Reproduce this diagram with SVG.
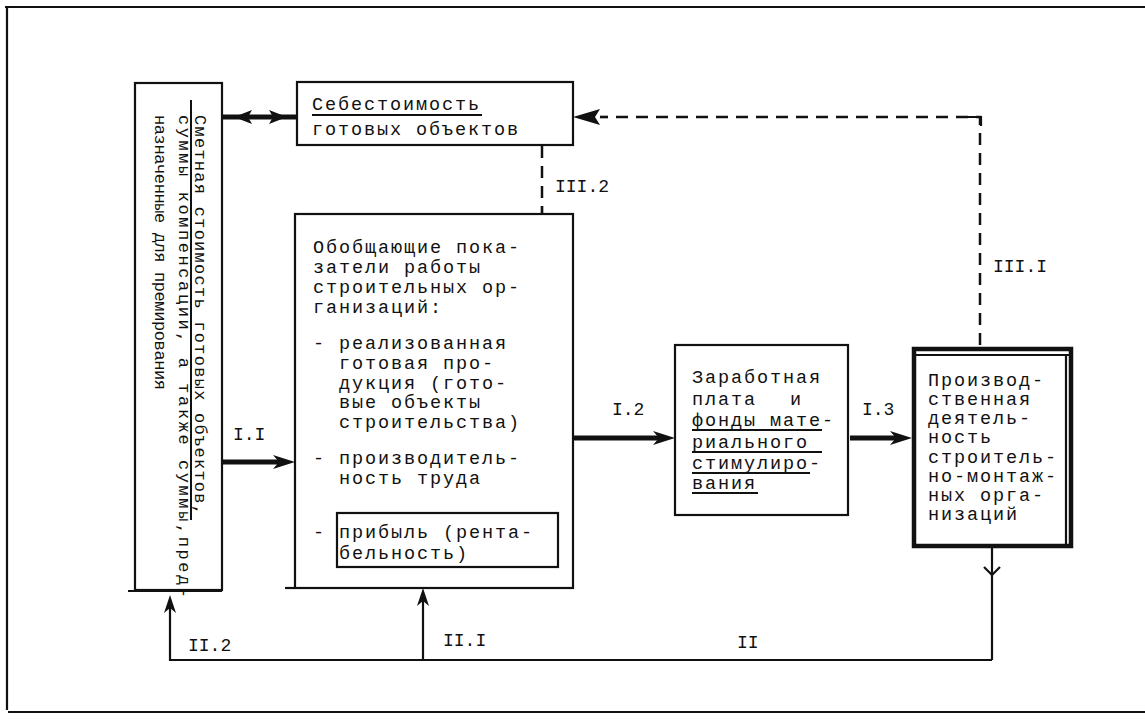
<svg xmlns="http://www.w3.org/2000/svg" width="1145" height="719" viewBox="0 0 1145 719">
<style>
text{font-family:"Liberation Mono","DejaVu Sans Mono",monospace;fill:#111;}
.t{font-size:18.5px;letter-spacing:1.9px;}
.r{font-size:17px;}
.lbl{font-size:18px;}
.box{fill:#fff;stroke:#111;stroke-width:2.2;}
.ln{fill:none;stroke:#111;stroke-width:2.2;}
.thick{fill:none;stroke:#111;stroke-width:5;}
.dash{fill:none;stroke:#111;stroke-width:2.5;stroke-dasharray:12 8;}
.ul{stroke:#111;stroke-width:2;}
.ah{fill:#111;}
</style>
<defs>
<marker id="arr" viewBox="0 0 22 14" refX="12" refY="7" markerWidth="22" markerHeight="14" markerUnits="userSpaceOnUse" orient="auto">
<path d="M0,0 L22,7 L0,14 L6,7 Z" fill="#111"/>
</marker>
<marker id="arrs" viewBox="0 0 18 12" refX="8" refY="6" markerWidth="18" markerHeight="12" markerUnits="userSpaceOnUse" orient="auto">
<path d="M0,0 L18,6 L0,12 L5,6 Z" fill="#111"/>
</marker>
</defs>
<rect width="1145" height="719" fill="#fff"/>
<g id="frame">
<line x1="5" y1="7" x2="1145" y2="7" class="ln" stroke-width="2.5"/>
<line x1="7" y1="7" x2="7" y2="710" class="ln"/>
<line x1="8" y1="712" x2="1145" y2="712" class="ln" stroke-width="2.5"/>
</g>
<g id="connectors">
<line x1="222" y1="462" x2="285" y2="462" class="thick" marker-end="url(#arr)"/>
<line x1="573" y1="438" x2="665" y2="438" class="thick" marker-end="url(#arr)"/>
<line x1="850" y1="438" x2="902" y2="438" class="thick" marker-end="url(#arr)"/>
<line x1="222" y1="117" x2="297" y2="117" class="thick"/>
<path d="M234,117 L252,110 L248,117 L252,124 Z" class="ah"/>
<path d="M287,117 L269,110 L273,117 L269,124 Z" class="ah"/>
<path d="M980,345 L980,117 L600,117" class="dash"/>
<path d="M962,117 L981,117 L981,126" class="ln" stroke-width="2.5"/>
<path d="M573,117 L600,109 L595,117 L600,125 Z" class="ah"/>
<path d="M600,117 L608,117" class="ln" stroke-width="2.5"/>
<path d="M542,146 L542,495" class="dash"/>
<line x1="542" y1="206" x2="542" y2="216" class="ln" stroke-width="2.5"/>
<path d="M542,513 L535,490 L542,494 L549,490 Z" class="ah"/>
<line x1="992" y1="548" x2="992" y2="660" class="ln"/>
<polyline points="984,567 992,575 1000,567" class="ln" stroke-width="2"/>
<polyline points="992,660 170,660 170,605" class="ln" stroke-width="2.5" marker-end="url(#arrs)"/>
<line x1="423" y1="660" x2="423" y2="598" class="ln" stroke-width="2.5" marker-end="url(#arrs)"/>
</g>
<g id="labels">
<text x="233" y="440" class="lbl">I.I</text>
<text x="612" y="415" class="lbl">I.2</text>
<text x="862" y="415" class="lbl">I.3</text>
<text x="555" y="192" class="lbl">III.2</text>
<text x="993" y="272" class="lbl">III.I</text>
<text x="188" y="651" class="lbl">II.2</text>
<text x="443" y="646" class="lbl">II.I</text>
<text x="737" y="648" class="lbl">II</text>
</g>
<g id="node-smeta">
<rect x="135" y="83" width="87" height="507" class="box"/>
<line x1="128" y1="591" x2="222" y2="591" class="ln"/>
<text class="r" transform="translate(195,115) rotate(90)" textLength="400" lengthAdjust="spacing">Сметная стоимость готовых объектов,</text>
<text class="r" transform="translate(179,115) rotate(90)" textLength="483" lengthAdjust="spacing">суммы компенсации, а также суммы,пред-</text>
<text class="r" transform="translate(155,115) rotate(90)" textLength="275" lengthAdjust="spacing">назначенные для премирования</text>
<line x1="191" y1="100" x2="191" y2="520" class="ul"/>
</g>
<g id="node-sebest">
<rect x="297" y="82" width="276" height="63" class="box"/>
<text x="312" y="110" class="t">Себестоимость</text>
<line x1="312" y1="115" x2="482" y2="115" class="ul"/>
<text x="312" y="135" class="t">готовых объектов</text>
</g>
<g id="node-pokazateli">
<rect x="295" y="214" width="278" height="374" class="box"/>
<line x1="285" y1="588" x2="295" y2="588" class="ln"/>
<text class="t"><tspan x="313" y="253">Обобщающие пока-</tspan><tspan x="313" y="273">затели работы</tspan><tspan x="313" y="293">строительных ор-</tspan><tspan x="313" y="313">ганизаций:</tspan><tspan x="313" y="349">- реализованная</tspan><tspan x="339" y="369">готовая про-</tspan><tspan x="339" y="389">дукция (гото-</tspan><tspan x="339" y="408">вые объекты</tspan><tspan x="339" y="428">строительства)</tspan><tspan x="313" y="464">- производитель-</tspan><tspan x="339" y="484">ность труда</tspan><tspan x="313" y="538">-</tspan></text>
<g id="node-pribyl">
<rect x="337" y="513" width="221" height="54" class="box"/>
<text class="t"><tspan x="339" y="538">прибыль (рента-</tspan><tspan x="339" y="559">бельность)</tspan></text>
</g>
</g>
<g id="node-zarplata">
<rect x="675" y="345" width="173" height="170" class="box"/>
<text class="t"><tspan x="692" y="383">Заработная</tspan><tspan x="692" y="405">плата</tspan><tspan x="790" y="405">и</tspan><tspan x="692" y="426">фонды мате-</tspan><tspan x="692" y="448">риального</tspan><tspan x="692" y="469">стимулиро-</tspan><tspan x="692" y="489">вания</tspan></text>
<line x1="692" y1="430" x2="822" y2="430" class="ul"/>
<line x1="692" y1="452" x2="822" y2="452" class="ul"/>
<line x1="692" y1="473" x2="810" y2="473" class="ul"/>
<line x1="692" y1="493" x2="758" y2="493" class="ul"/>
</g>
<g id="node-proizvod">
<rect x="914" y="349" width="157" height="197" fill="#fff" stroke="#111" stroke-width="4.5"/>
<line x1="916" y1="355" x2="1072" y2="355" class="ln" stroke-width="1.5"/>
<line x1="1066" y1="355" x2="1066" y2="545" class="ln" stroke-width="3"/>
<text class="t"><tspan x="928" y="386">Производ-</tspan><tspan x="928" y="405">ственная</tspan><tspan x="928" y="424">деятель-</tspan><tspan x="928" y="443">ность</tspan><tspan x="928" y="463">строитель-</tspan><tspan x="928" y="482">но-монтаж-</tspan><tspan x="928" y="501">ных орга-</tspan><tspan x="928" y="520">низаций</tspan></text>
</g>
</svg>
